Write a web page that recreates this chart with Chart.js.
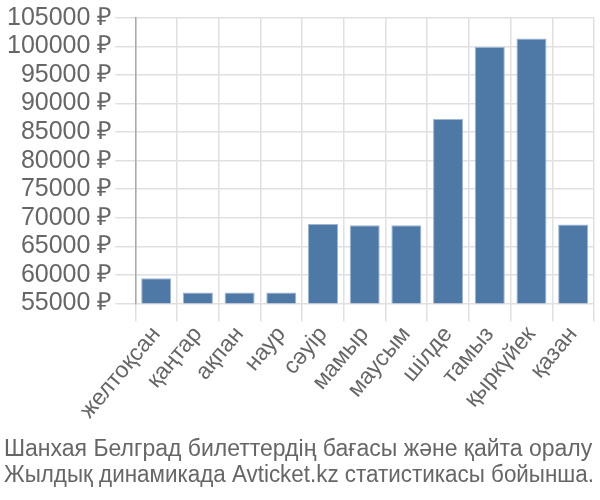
<!DOCTYPE html>
<html>
<head>
<meta charset="utf-8">
<script src="https://cdn.jsdelivr.net/npm/chart.js@4"></script>
<style>
    html, body { margin: 0; padding: 0; background: #fff; }
    #wrap { width: 600px; height: 500px; }
</style>
</head>
<body>
<div id="wrap"><canvas id="priceChart"></canvas></div>
<script>
// Months and average ticket prices (RUB)
const months = ['желтоқсан', 'қаңтар', 'ақпан', 'наур', 'сәуір', 'мамыр', 'маусым', 'шілде', 'тамыз', 'қыркүйек', 'қазан'];
const prices = [59400, 56900, 56900, 56900, 68900, 68700, 68700, 87300, 99900, 101400, 68800];
const titleLines = ['Шанхая Белград билеттердің бағасы және қайта оралу', 'Жылдық динамикада Avticket.kz статистикасы бойынша.'];
const yMin = 55000;
const yMax = 105000;
const yStep = 5000;

const fontFamily = '"Liberation Sans", Arial, sans-serif';

new Chart(document.getElementById('priceChart'), {
    type: 'bar',
    data: {
        labels: months,
        datasets: [{
            data: prices,
            backgroundColor: '#4e79a7',
            borderColor: '#9fb6d0',
            borderWidth: 1,
            categoryPercentage: 0.8,
            barPercentage: 0.9
        }]
    },
    options: {
        responsive: true,
        maintainAspectRatio: false,
        animation: false,
        layout: {
            padding: { top: 0, right: 6, left: 4, bottom: 0 }
        },
        scales: {
            x: {
                grid: {
                    color: '#e0e0e0',
                    lineWidth: 1.5,
                    tickLength: 18
                },
                border: { color: '#e0e0e0' },
                ticks: {
                    color: '#666',
                    font: { family: fontFamily, size: 23 },
                    minRotation: 50,
                    maxRotation: 50,
                    autoSkip: false,
                    padding: 0
                }
            },
            y: {
                min: yMin,
                max: yMax,
                grid: {
                    color: '#e0e0e0',
                    lineWidth: 1.5,
                    tickLength: 20
                },
                border: { color: '#aaa', width: 1.5 },
                ticks: {
                    stepSize: yStep,
                    autoSkip: false,
                    color: '#666',
                    font: { family: fontFamily, size: 25 },
                    padding: 3,
                    callback: function(value) {
                        return value + ' ₽';
                    }
                }
            }
        },
        plugins: {
            legend: { display: false },
            tooltip: { enabled: false },
            title: {
                display: true,
                position: 'bottom',
                align: 'start',
                text: titleLines,
                color: '#666',
                font: { family: fontFamily, size: 23, weight: 'normal', lineHeight: 1.15 },
                padding: { top: 12, bottom: 11 }
            }
        }
    }
});
</script>
</body>
</html>
